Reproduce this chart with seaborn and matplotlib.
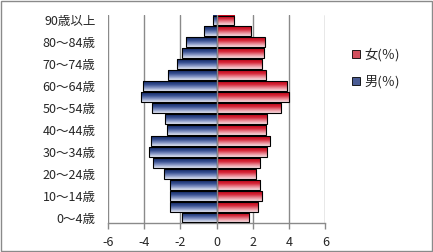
import numpy as np
import pandas as pd
import matplotlib
matplotlib.use("Agg")
import matplotlib.pyplot as plt
import seaborn as sns
from matplotlib.colors import LinearSegmentedColormap
from matplotlib.patches import Patch, Rectangle

ages = ["0～4歳", "5～9歳", "10～14歳", "15～19歳", "20～24歳", "25～29歳",
        "30～34歳", "35～39歳", "40～44歳", "45～49歳", "50～54歳", "55～59歳",
        "60～64歳", "65～69歳", "70～74歳", "75～79歳", "80～84歳", "85～89歳",
        "90歳以上"]
male = [1.9, 2.55, 2.55, 2.6, 2.9, 3.5, 3.75, 3.6, 2.75, 2.85, 3.55, 4.2,
        4.05, 2.7, 2.2, 1.9, 1.7, 0.7, 0.2]
female = [1.8, 2.3, 2.5, 2.4, 2.2, 2.4, 2.8, 2.95, 2.75, 2.8, 3.55, 4.0,
          3.9, 2.7, 2.5, 2.6, 2.65, 1.9, 0.95]
xticks = [-6, -4, -2, 0, 2, 4, 6]
label_f = "女(％)"
label_m = "男(％)"

sns.set_theme(style="white")
plt.rcParams['font.family'] = ['Noto Sans CJK JP', 'DejaVu Sans']

order = ages[::-1]
df = pd.DataFrame({
    "age": ages + ages,
    "value": [-v for v in male] + female,
    "sex": [label_m] * len(ages) + [label_f] * len(ages),
})

fig = plt.figure(figsize=(4.33, 2.52), dpi=100)
ax = fig.add_axes([108 / 433, 1 - 223 / 252, (325.3 - 108) / 433, (223 - 15) / 252])

sns.barplot(data=df, x="value", y="age", hue="sex", order=order,
            hue_order=[label_m, label_f], dodge=False, width=0.9,
            orient="h", ax=ax, legend=False, edgecolor="black", linewidth=0.8)

cm_blue = LinearSegmentedColormap.from_list("b", ["#132a66", "#344c8e", "#8494c4", "#e4e8f4"])
cm_red = LinearSegmentedColormap.from_list("r", ["#c4061a", "#d42436", "#ea8894", "#f8dfe2"])
grad = np.linspace(0, 1, 64).reshape(-1, 1)
for p in list(ax.patches):
    x0, y0, w, h = p.get_x(), p.get_y(), p.get_width(), p.get_height()
    if w == 0:
        continue
    left, right = min(x0, x0 + w), max(x0, x0 + w)
    cmap = cm_blue if left < 0 else cm_red
    top, bottom = min(y0, y0 + h), max(y0, y0 + h)
    ax.imshow(grad, cmap=cmap, extent=(left, right, bottom, top), origin="upper",
              aspect="auto", zorder=2, interpolation="bilinear")
    p.set_facecolor("none")
    p.set_zorder(3)

ax.set_xlim(-6, 6)
ax.set_ylim(len(ages) - 0.5, -0.5)
ax.set_xticks(xticks)
ax.set_xticklabels([str(t) for t in xticks], fontsize=9)
for t in xticks:
    ax.axvline(t, color="#8a8a8a", lw=1.0, zorder=1 if t != 0 else 4)

ax.set_yticks(range(len(order)))
ax.set_yticklabels([a if i % 2 == 0 else "" for i, a in enumerate(order)], fontsize=9)
ax.tick_params(axis="y", length=0, pad=9)
ax.tick_params(axis="x", length=4, width=1, color="#8a8a8a", pad=5, direction="out", bottom=True)
ax.set_xlabel("")
ax.set_ylabel("")
for s in ["top", "right", "left"]:
    ax.spines[s].set_visible(False)
ax.spines["bottom"].set_color("#8a8a8a")
ax.spines["bottom"].set_linewidth(1.0)

handles = [Patch(facecolor="#d2505e", edgecolor="black", linewidth=0.6, label=label_f),
           Patch(facecolor="#4a5c94", edgecolor="black", linewidth=0.6, label=label_m)]
fig.legend(handles=handles, loc="upper left", bbox_to_anchor=(347 / 433, 1 - 43 / 252),
           frameon=False, fontsize=9.5, handlelength=0.6, handleheight=0.6,
           handletextpad=0.3, labelspacing=1.0, borderaxespad=0)

fig.patches.append(Rectangle((1 / 433, 1 / 252), 431 / 433, 250 / 252, transform=fig.transFigure,
                             fill=False, edgecolor="#8a8a8a", linewidth=1.0))

fig.savefig("out.png", dpi=100)
